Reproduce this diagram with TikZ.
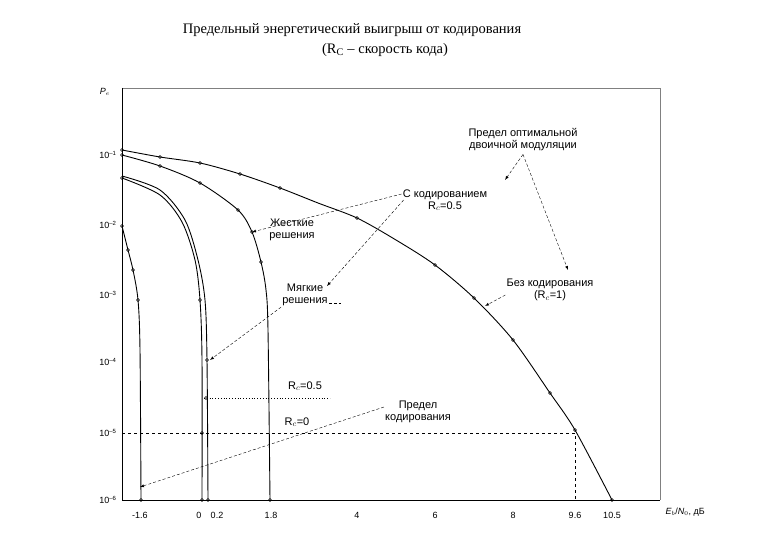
\documentclass[tikz,border=0pt]{standalone}
\usepackage{fontspec}
\setmainfont{Liberation Serif}
\newfontfamily\sans{Liberation Sans}
\begin{document}
\begin{tikzpicture}[x=1pt,y=-1pt,
  curve/.style={line width=0.9pt},
  ann/.style={densely dashed,thin,-latex},
  lab/.style={font=\sans\fontsize{11}{12}\selectfont,align=center,inner sep=1pt},
  tk/.style={font=\sans\fontsize{9}{10}\selectfont},
  mk/.style={circle,draw,inner sep=0pt,minimum size=3pt}]
\useasboundingbox (0,0) rectangle (780,540);
\node (t1) at (352,30) {\fontsize{14.5}{16}\selectfont Предельный энергетический выигрыш от кодирования};
\node (t2) at (385,50) {\fontsize{14.5}{16}\selectfont (R$_{\mathrm C}$ – скорость кода)};
% frame
\draw[gray,thin] (122,88) -- (660,88) -- (660,500);
\draw[thin] (122,88) -- (122,500) -- (660,500);
\node[tk] (pe) at (105,92) {\textit{P}$_e$};
\foreach \y/\e in {155/1,225/2,295/3,362/4,433/5,500/6}
  \node[tk,anchor=east] (yl\e) at (120,\y) {10\textsuperscript{–\e}};
\foreach \x/\t in {140/-1.6,199/0,217/0.2,271/1.8,357/4,435/6,513/8,575/9.6,612/10.5}
  \node[tk] at (\x,515) {\t};
\node[tk,anchor=west] (xl) at (662,512) {\textit{E}$_b$/\textit{N}$_0$, дБ};
% guides
\draw[dashed,thin] (122,433) -- (575,433) -- (575,500);
\draw[dotted,thick] (204,398) -- (330,398);
% curves
\draw[curve] plot[smooth,tension=0.5] coordinates{(122,150)(160,157)(200,163)(240,174)(280,188)(318,203)(357,218)(396,240)(435,265)(474,298)(513,340)(550,393)(575,430)(612,500)};
\foreach \p in {(122,150),(160,157),(200,163),(240,174),(280,188),(357,218),(435,265),(474,298),(513,340),(550,393),(575,430),(612,500)} \node[mk] at \p {};
\draw[curve] plot[smooth,tension=0.5] coordinates{(122,155)(160,166)(200,183)(238,210)(252,232)(261,262)(266,290)(268,330)(270,500)};
\foreach \p in {(122,155),(160,166),(200,183),(238,210),(252,232),(261,262),(270,500)} \node[mk] at \p {};
\draw[curve] plot[smooth,tension=0.5] coordinates{(122,178)(160,195)(182,222)(195,260)(200,300)(202,360)(202,500)};
\draw[curve] plot[smooth,tension=0.5] coordinates{(122,176)(160,190)(185,220)(198,260)(205,300)(207,360)(208,500)};
\foreach \p in {(122,178),(200,300),(202,433),(202,500),(207,360),(206,398),(208,500)} \node[mk] at \p {};
\draw[curve] plot[smooth,tension=0.5] coordinates{(122,226)(128,250)(133,270)(138,300)(140,350)(141,500)};
\foreach \p in {(122,226),(128,250),(133,270),(138,300),(141,500)} \node[mk] at \p {};
% labels
\node[lab] (opt) at (523,140) {Предел оптимальной\\двоичной модуляции};
\node[lab] (cod) at (445,200) {С кодированием\\R$_c$=0.5};
\node[lab] (hard) at (292,230) {Жесткие\\решения};
\node[lab] (soft) at (305,295) {Мягкие\\решения};
\node[lab] (unc) at (550,290) {Без кодирования\\(R$_c$=1)};
\node[lab] (lim) at (418,412) {Предел\\кодирования};
\node[lab] (r05) at (305,386) {R$_c$=0.5};
\node[lab] (r0) at (297,422) {R$_c$=0};
\coordinate (a1) at (505,180);
\coordinate (a2) at (568,270);
\coordinate (a3) at (252,232);
\coordinate (a4) at (327,286);
\coordinate (a5) at (210,360);
\coordinate (a6) at (485,306);
\coordinate (a7) at (140,487);
\draw[ann] (opt.south) ++(0,2) -- (a1);
\draw[ann] (opt.south) ++(0,2) -- (a2);
\draw[ann] (cod.west) ++(0,-6) -- (a3);
\draw[ann] (cod.west) ++(2,0) -- (a4);
\draw[ann] (soft.south west) -- (a5);
\draw[densely dashed,thin] (soft.east) ++(0,8) -- ++(12,0);
\draw[ann] (unc.west) ++(0,5) -- (a6);
\draw[ann] (lim.west) ++(0,-5) -- (a7);
\end{tikzpicture}
\end{document}
